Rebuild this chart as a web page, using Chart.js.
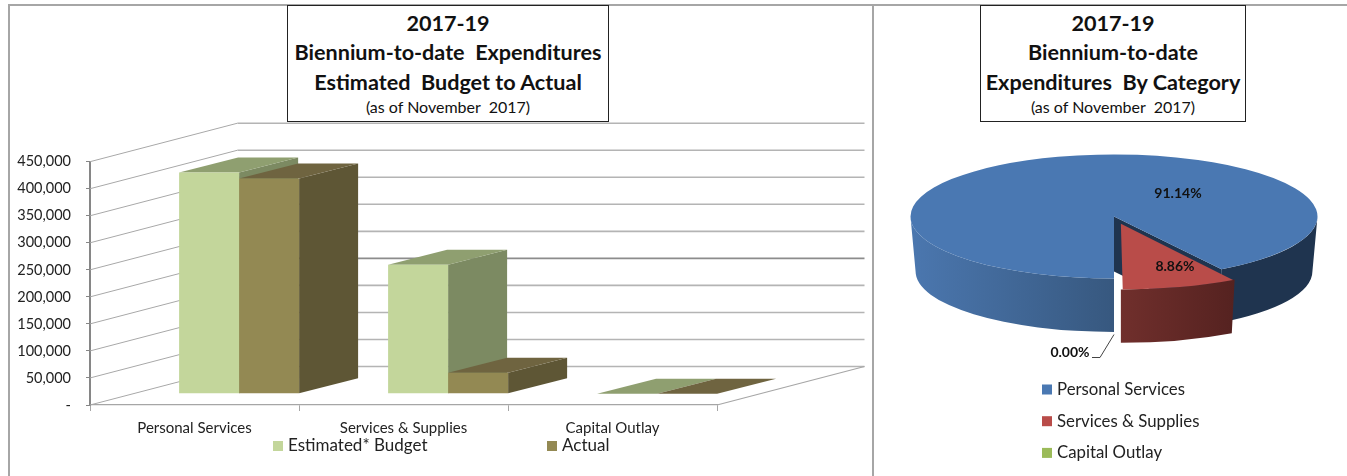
<!DOCTYPE html>
<html>
<head>
<meta charset="utf-8">
<script src="https://cdn.jsdelivr.net/npm/chart.js@4"></script>
<style>
  html, body { margin: 0; background: #fff; }
  body { position: relative; width: 1347px; height: 476px; overflow: hidden; font-family: Lato, sans-serif; color: #111; }
  canvas { position: absolute; }
  #barChart { left: 9px; top: 5px; }
  #pieChart { left: 873px; top: 5px; }
  .frame { position: absolute; background: #a6a6a6; }
  .title-box { position: absolute; top: 5px; height: 117px; box-sizing: border-box; border: 1.5px solid #222; background: #fff; text-align: center; font-weight: 700; font-size: 21.6px; line-height: 29.5px; padding-top: 2.5px; white-space: nowrap; }
  .title-box small { display: block; font-weight: 400; font-size: 16px; line-height: 20px; }
</style>
</head>
<body>
<div class="frame" style="left:8px;top:4px;width:1339px;height:1.5px"></div>
<div class="frame" style="left:8px;top:4px;width:2px;height:472px"></div>
<div class="frame" style="left:872px;top:4px;width:1.5px;height:472px"></div>

<canvas id="barChart" width="863" height="471"></canvas>
<canvas id="pieChart" width="474" height="471"></canvas>

<div class="title-box" style="left:287px;width:322px">2017-19<br>Biennium-to-date&nbsp; Expenditures<br>Estimated&nbsp; Budget to Actual<small>(as of November&nbsp; 2017)</small></div>
<div class="title-box" style="left:980px;width:266px">2017-19<br>Biennium-to-date<br>Expenditures&nbsp; By Category<small>(as of November&nbsp; 2017)</small></div>

<script>
const categories = ['Personal Services', 'Services & Supplies', 'Capital Outlay'];
const estimatedBudget = [409000, 238500, 0];
const actualSpend = [398000, 38700, 0];
const seriesNames = ['Estimated* Budget', 'Actual'];
const piePercents = [91.14, 8.86, 0];

const FONT = 'Lato, sans-serif';
const barFaces = [
  { front: '#c3d69b', top: '#8f9f70', side: '#7c8a62' },
  { front: '#938953', top: '#6f6440', side: '#5e5635' },
];
const pieColors = ['#4a78b2', '#b94c49', '#9bbb59'];

function drawLegendItem(ctx, x, y, color, text, fontSize) {
  ctx.save();
  ctx.fillStyle = color;
  ctx.fillRect(x, y - 5, 10, 10);
  ctx.fillStyle = '#222';
  ctx.font = fontSize + 'px ' + FONT;
  ctx.textAlign = 'left';
  ctx.textBaseline = 'middle';
  ctx.fillText(text, x + 15, y);
  ctx.restore();
}

function polygon(ctx, points, color) {
  ctx.beginPath();
  points.forEach((p, i) => (i ? ctx.lineTo(p[0], p[1]) : ctx.moveTo(p[0], p[1])));
  ctx.closePath();
  ctx.fillStyle = color;
  ctx.fill();
}

// 3d room and bar sides, the bars themselves are drawn by chart.js and only moved back
const box3d = {
  id: 'box3d',
  floor: { x: 147.5, y: 38.5 },
  inset: { x: 44.6, y: 11.3 },
  depth: { x: 59, y: 15 },

  beforeDatasetsDraw(chart) {
    const { ctx, chartArea, scales } = chart;
    const { floor, inset, depth } = this;

    ctx.save();
    scales.y.ticks.forEach((tick) => {
      const y = scales.y.getPixelForValue(tick.value);
      ctx.beginPath();
      ctx.moveTo(chartArea.left, y);
      ctx.lineTo(chartArea.left + floor.x, y - floor.y);
      ctx.lineWidth = 1;
      ctx.strokeStyle = '#a8a8a8';
      ctx.stroke();
      ctx.beginPath();
      ctx.moveTo(chartArea.left + floor.x, y - floor.y);
      ctx.lineTo(chartArea.right + floor.x, y - floor.y);
      ctx.lineWidth = 1.6;
      ctx.strokeStyle = tick.value === 200000 ? '#8c8c8c' : '#b4b4b4';
      ctx.stroke();
    });
    ctx.beginPath();
    ctx.moveTo(chartArea.right, chartArea.bottom);
    ctx.lineTo(chartArea.right + floor.x, chartArea.bottom - floor.y);
    ctx.lineWidth = 1.2;
    ctx.strokeStyle = '#a6a6a6';
    ctx.stroke();

    ctx.translate(inset.x, -inset.y);
    chart.getSortedVisibleDatasetMetas().forEach((meta) => {
      const faces = barFaces[meta.index];
      meta.data.forEach((bar) => {
        const { x, y, base, width } = bar.getProps(['x', 'y', 'base', 'width']);
        const left = x - width / 2;
        const right = x + width / 2;
        polygon(ctx, [[right, y], [right + depth.x, y - depth.y], [right + depth.x, base - depth.y], [right, base]], faces.side);
        polygon(ctx, [[left, y], [right, y], [right + depth.x, y - depth.y], [left + depth.x, y - depth.y]], faces.top);
      });
    });
    ctx.restore();

    ctx.save();
    ctx.translate(inset.x, -inset.y);
  },

  afterDatasetsDraw(chart) {
    chart.ctx.restore();
    drawLegendItem(chart.ctx, 264, 441, barFaces[0].front, seriesNames[0], 17);
    drawLegendItem(chart.ctx, 538, 441, barFaces[1].front, seriesNames[1], 17);
  },
};

new Chart(document.getElementById('barChart'), {
  type: 'bar',
  plugins: [box3d],
  data: {
    labels: categories,
    datasets: [
      { label: seriesNames[0], data: estimatedBudget, backgroundColor: barFaces[0].front },
      { label: seriesNames[1], data: actualSpend, backgroundColor: barFaces[1].front },
    ],
  },
  options: {
    responsive: false,
    animation: false,
    datasets: { bar: { categoryPercentage: 120 / 209, barPercentage: 1, clip: false } },
    layout: { padding: { top: 156.7, right: 155 } },
    plugins: { legend: { display: false }, tooltip: { enabled: false } },
    scales: {
      x: {
        afterFit(scale) { scale.height = 71; },
        border: { color: '#a6a6a6', width: 1.3 },
        grid: { drawOnChartArea: false, tickColor: '#a6a6a6', tickLength: 6 },
        ticks: { color: '#222', font: { family: FONT, size: 15 }, padding: 8, maxRotation: 0 },
      },
      y: {
        min: 0,
        max: 450000,
        afterFit(scale) { scale.width = 81; },
        border: { color: '#868686', width: 2 },
        grid: { drawOnChartArea: false, tickColor: '#868686', tickLength: 4 },
        ticks: {
          stepSize: 50000,
          color: '#222',
          font: { family: FONT, size: 14.5 },
          padding: 15,
          callback: (v) => (v === 0 ? '-' : v.toLocaleString('en-US')),
        },
      },
    },
  },
});

// pie is squashed with the canvas transform, then the rim is added under it
const pie3d = {
  id: 'pie3d',
  squash: 0.305,
  height: 55,
  taper: 0.975,
  rimShades: [
    [['#37587f', '#4b77af'], ['#1f344f', '#1f344f']],
    [['#552220', '#702f2c']],
    [],
  ],

  beforeDatasetsDraw(chart) {
    const { ctx } = chart;
    const arcs = chart.getDatasetMeta(0).data;
    const h = this.height / this.squash;
    const { x: cx, y: cy } = arcs[0];

    ctx.save();
    ctx.translate(cx, cy);
    ctx.scale(1, this.squash);
    ctx.translate(-cx, -cy);

    arcs.forEach((arc, i) => {
      const { startAngle, endAngle, outerRadius, options, circumference } = arc;
      if (!circumference) return;
      const offset = (options.offset || 0) / 4;
      const mid = (startAngle + endAngle) / 2;
      const ox = cx + Math.cos(mid) * offset;
      const oy = cy + Math.sin(mid) * offset;
      const r = outerRadius + offset * (1 - Math.sin(Math.min(Math.PI, circumference)));

      if (i === 0) {
        polygon(ctx, [
          [cx, cy],
          [cx + Math.cos(endAngle) * r, cy + Math.sin(endAngle) * r],
          [cx + Math.cos(endAngle) * r, cy + Math.sin(endAngle) * r + h],
          [cx, cy + h],
        ], this.rimShades[0][1][0]);
      }

      let shade = 0;
      [[0, Math.PI], [2 * Math.PI, 3 * Math.PI]].forEach(([from, to]) => {
        const a0 = Math.max(startAngle, from);
        const a1 = Math.min(endAngle, to);
        if (a1 <= a0) return;
        const stops = this.rimShades[i][shade++];
        const grad = ctx.createLinearGradient(ox + Math.cos(a0) * r, 0, ox + Math.cos(a1) * r, 0);
        grad.addColorStop(0, stops[0]);
        grad.addColorStop(1, stops[1]);
        ctx.beginPath();
        ctx.arc(ox, oy, r, a0, a1);
        ctx.arc(ox, oy + h, r * this.taper, a1, a0, true);
        ctx.closePath();
        ctx.fillStyle = grad;
        ctx.fill();
      });
    });
  },

  afterDatasetsDraw(chart) {
    const { ctx } = chart;
    ctx.restore();
    const { x: cx, y: cy } = chart.getDatasetMeta(0).data[0];

    ctx.save();
    ctx.font = 'bold 14px ' + FONT;
    ctx.fillStyle = '#111';
    ctx.textAlign = 'center';
    ctx.textBaseline = 'middle';
    const labelSpots = [[64, -23], [61, 50], [-44, 136]];
    piePercents.forEach((v, i) => {
      ctx.fillText(v.toFixed(2) + '%', cx + labelSpots[i][0], cy + labelSpots[i][1]);
    });
    ctx.beginPath();
    ctx.moveTo(cx - 22, cy + 141);
    ctx.lineTo(cx - 14, cy + 141);
    ctx.lineTo(cx, cy + 118);
    ctx.lineWidth = 1;
    ctx.strokeStyle = '#444';
    ctx.stroke();
    ctx.restore();

    chart.data.labels.forEach((label, i) => {
      drawLegendItem(ctx, 169, 384.5 + i * 31.7, pieColors[i], label, 16.8);
    });
  },
};

new Chart(document.getElementById('pieChart'), {
  type: 'pie',
  plugins: [pie3d],
  data: {
    labels: categories,
    datasets: [{
      data: piePercents,
      backgroundColor: pieColors,
      borderWidth: 0,
      offset: [0, 100, 0],
      clip: false,
    }],
  },
  options: {
    responsive: false,
    animation: false,
    rotation: 180,
    radius: 203.5,
    layout: { padding: { left: 8, bottom: 48 } },
    plugins: { legend: { display: false }, tooltip: { enabled: false } },
  },
});
</script>
</body>
</html>
